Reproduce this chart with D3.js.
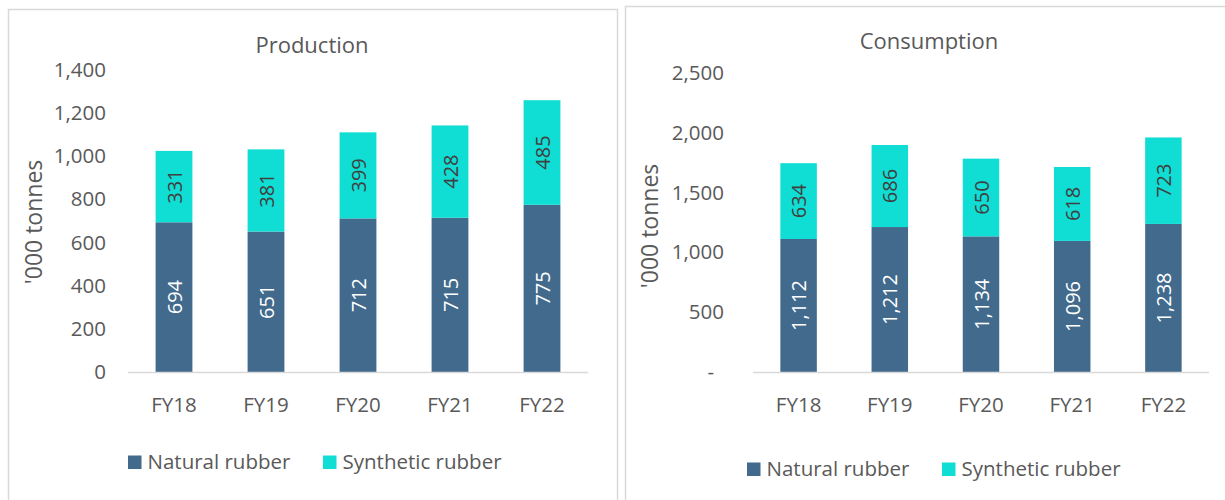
<!DOCTYPE html>
<html>
<head>
<meta charset="utf-8">
<script src="https://cdn.jsdelivr.net/npm/d3@7"></script>
<style>
  html, body { margin: 0; padding: 0; background: #fff; }
  svg { display: block; }
  text { font-family: "Open Sans", "Noto Sans", sans-serif; }
</style>
</head>
<body>
<svg id="chart" width="1225" height="500"></svg>
<script>
// Fiscal years shown on both panels
const years = ["FY18", "FY19", "FY20", "FY21", "FY22"];

// Production ('000 tonnes)
const prodNatural   = [694, 651, 712, 715, 775];
const prodSynthetic = [331, 381, 399, 428, 485];
const prodTicks     = [0, 200, 400, 600, 800, 1000, 1200, 1400];

// Consumption ('000 tonnes)
const consNatural   = [1112, 1212, 1134, 1096, 1238];
const consSynthetic = [634, 686, 650, 618, 723];
const consTicks     = [0, 500, 1000, 1500, 2000, 2500];

const seriesNames = ["Natural rubber", "Synthetic rubber"];
const colors = { natural: "#416a8d", synthetic: "#10ddd3" };
const textColor = "#595959";

const svg = d3.select("#chart");
const fmt = d3.format(",");

function panel(cfg) {
  const g = svg.append("g");

  // frame
  g.append("rect")
    .attr("x", cfg.frame[0] + 0.5).attr("y", cfg.frame[1] + 0.5)
    .attr("width", cfg.frame[2]).attr("height", cfg.frame[3])
    .attr("fill", "#fff").attr("stroke", "#d9d9d9").attr("stroke-width", 1.5);

  const x = d3.scaleBand().domain(years).range([cfg.left, cfg.right]).paddingInner(0.6).paddingOuter(0.3);
  const y = d3.scaleLinear().domain([0, cfg.max]).range([cfg.bottom, cfg.top]);

  // title
  g.append("text").attr("x", cfg.titleX).attr("y", cfg.titleY)
    .attr("text-anchor", "middle").attr("fill", textColor)
    .attr("font-size", 22).text(cfg.title);

  // y axis labels
  const yAxis = d3.axisLeft(y).tickValues(cfg.ticks).tickSize(0).tickPadding(0)
    .tickFormat(cfg.zeroDash ? (d => d === 0 ? "-" : fmt(d)) : fmt);
  const ya = g.append("g").attr("transform", `translate(${cfg.tickX},0)`).call(yAxis);
  ya.select(".domain").remove();
  ya.selectAll("text").attr("fill", textColor).attr("font-size", 20.5)
    .attr("font-family", '"Open Sans", sans-serif');
  if (cfg.zeroDash) ya.selectAll("text").filter(d => d === 0).attr("dx", -10);

  // y axis title
  g.append("text")
    .attr("transform", `translate(${cfg.yTitleX},${cfg.yTitleY}) rotate(-90)`)
    .attr("text-anchor", "middle").attr("fill", textColor)
    .attr("font-size", 23).text("'000 tonnes");

  // stacked bars
  const rows = years.map((yr, i) => ({ year: yr, natural: cfg.natural[i], synthetic: cfg.synthetic[i] }));
  const stack = d3.stack().keys(["natural", "synthetic"])(rows);

  stack.forEach(layer => {
    const key = layer.key;
    g.append("g").selectAll("rect").data(layer).join("rect")
      .attr("x", d => x(d.data.year))
      .attr("width", x.bandwidth())
      .attr("y", d => y(d[1]))
      .attr("height", d => y(d[0]) - y(d[1]))
      .attr("fill", colors[key]);

    g.append("g").selectAll("text").data(layer).join("text")
      .attr("transform", d => `translate(${x(d.data.year) + x.bandwidth() / 2 + 7.5},${(y(d[0]) + y(d[1])) / 2}) rotate(-90)`)
      .attr("text-anchor", "middle")
      .attr("font-size", 20)
      .attr("fill", key === "natural" ? "#ffffff" : "#404040")
      .text(d => fmt(d.data[key]));
  });

  // baseline
  g.append("line").attr("x1", cfg.left).attr("x2", cfg.right)
    .attr("y1", cfg.bottom + 0.5).attr("y2", cfg.bottom + 0.5)
    .attr("stroke", "#d9d9d9").attr("stroke-width", 1.5);

  // x axis labels
  const xAxis = d3.axisBottom(x).tickSize(0).tickPadding(0);
  const xa = g.append("g").attr("transform", `translate(0,${cfg.xLabelY})`).call(xAxis);
  xa.select(".domain").remove();
  xa.selectAll("text").attr("fill", textColor).attr("font-size", 20.5)
    .attr("font-family", '"Open Sans", sans-serif').attr("dy", 0);

  // legend
  const leg = g.append("g").attr("transform", `translate(0,${cfg.legendY})`);
  seriesNames.forEach((name, i) => {
    const lx = cfg.legendX[i];
    leg.append("rect").attr("x", lx).attr("y", -13.5).attr("width", 13.5).attr("height", 13.5)
      .attr("fill", i === 0 ? colors.natural : colors.synthetic);
    leg.append("text").attr("x", lx + 19.5).attr("y", 0)
      .attr("fill", textColor).attr("font-size", 20.5).text(name);
  });
}

panel({
  frame: [8, 9, 609, 500],
  title: "Production", titleX: 312, titleY: 53,
  left: 128, right: 588, top: 70, bottom: 372, max: 1400,
  ticks: prodTicks, tickX: 106, zeroDash: false,
  yTitleX: 42, yTitleY: 222,
  natural: prodNatural, synthetic: prodSynthetic,
  xLabelY: 412, legendY: 469, legendX: [128, 323]
});

panel({
  frame: [625, 6, 620, 500],
  title: "Consumption", titleX: 929, titleY: 49,
  left: 753, right: 1209, top: 73, bottom: 372, max: 2500,
  ticks: consTicks, tickX: 724, zeroDash: true,
  yTitleX: 658, yTitleY: 226,
  natural: consNatural, synthetic: consSynthetic,
  xLabelY: 412, legendY: 476, legendX: [747, 942]
});
</script>
</body>
</html>
